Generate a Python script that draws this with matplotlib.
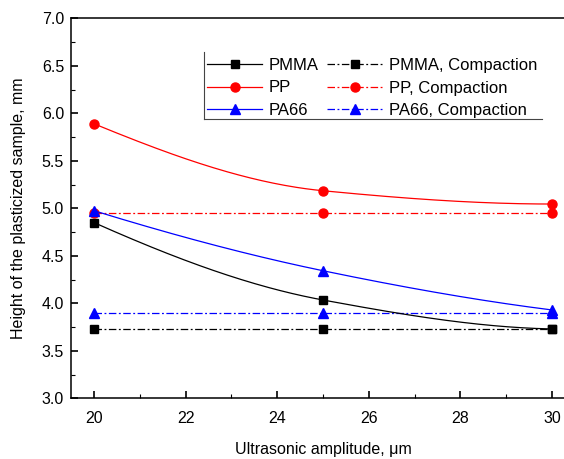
import numpy as np
import matplotlib
matplotlib.use("Agg")
import matplotlib.pyplot as plt
from matplotlib.lines import Line2D
from matplotlib.ticker import MultipleLocator, FormatStrFormatter

plt.rcParams['font.family'] = ['Liberation Sans', 'DejaVu Sans']

amplitude = [20, 25, 30]
pmma = [4.85, 4.035, 3.73]
pp = [5.89, 5.185, 5.045]
pa66 = [4.975, 4.343, 3.93]
pmma_comp = [3.73, 3.73, 3.73]
pp_comp = [4.95, 4.95, 4.95]
pa66_comp = [3.895, 3.895, 3.895]

W, H = 564, 459
fig = plt.figure(figsize=(W / 100, H / 100), dpi=100)
left_px, top_px, bottom_px = 71, 18.3, 398.3
px_per_unit = 45.8
xlim = (19.5, 30.5)
width_px = (xlim[1] - xlim[0]) * px_per_unit
ax = fig.add_axes([left_px / W, (H - bottom_px) / H, width_px / W, (bottom_px - top_px) / H])


def pchip(xs, ys, n=200):
    x = np.asarray(xs, float)
    y = np.asarray(ys, float)
    h = np.diff(x)
    d = np.diff(y) / h
    m = np.zeros_like(y)
    for k in range(1, len(x) - 1):
        if d[k - 1] * d[k] > 0:
            w1 = 2 * h[k] + h[k - 1]
            w2 = h[k] + 2 * h[k - 1]
            m[k] = (w1 + w2) / (w1 / d[k - 1] + w2 / d[k])
    def end(h0, h1, d0, d1):
        s = ((2 * h0 + h1) * d0 - h0 * d1) / (h0 + h1)
        if np.sign(s) != np.sign(d0):
            s = 0.0
        elif np.sign(d0) != np.sign(d1) and abs(s) > abs(3 * d0):
            s = 3 * d0
        return s
    m[0] = end(h[0], h[1], d[0], d[1])
    m[-1] = end(h[-1], h[-2], d[-1], d[-2])
    xx = np.linspace(x[0], x[-1], n)
    yy = np.empty_like(xx)
    for i, xv in enumerate(xx):
        k = min(np.searchsorted(x, xv, side='right') - 1, len(x) - 2)
        t = (xv - x[k]) / h[k]
        h00 = 2 * t**3 - 3 * t**2 + 1
        h10 = t**3 - 2 * t**2 + t
        h01 = -2 * t**3 + 3 * t**2
        h11 = t**3 - t**2
        yy[i] = h00 * y[k] + h10 * h[k] * m[k] + h01 * y[k + 1] + h11 * h[k] * m[k + 1]
    return xx, yy


dashdot = (0, (6, 2, 1.5, 2))
series = [
    (pmma, 'black', 's', 5.8, 'PMMA'),
    (pp, 'red', 'o', 6.5, 'PP'),
    (pa66, 'blue', '^', 7, 'PA66'),
]
comps = [
    (pmma_comp, 'black', 's', 5.8, 'PMMA, Compaction'),
    (pp_comp, 'red', 'o', 6.5, 'PP, Compaction'),
    (pa66_comp, 'blue', '^', 7, 'PA66, Compaction'),
]
for ys, c, m, ms, lab in comps:
    ax.plot(amplitude, ys, color=c, lw=0.9, ls=dashdot, marker=m, ms=ms, zorder=2)
for ys, c, m, ms, lab in series:
    xx, yy = pchip(amplitude, ys)
    ax.plot(xx, yy, color=c, lw=0.9, zorder=3)
    ax.plot(amplitude, ys, ls='none', marker=m, ms=ms, color=c, zorder=4)

handles = []
for ys, c, m, ms, lab in series:
    handles.append(Line2D([], [], color=c, lw=0.9, marker=m, ms=ms, label=lab))
for ys, c, m, ms, lab in comps:
    handles.append(Line2D([], [], color=c, lw=0.9, ls=dashdot, marker=m, ms=ms, label=lab))

ax.set_xlim(*xlim)
ax.set_ylim(3.0, 7.0)
ax.xaxis.set_major_locator(MultipleLocator(2))
ax.xaxis.set_minor_locator(MultipleLocator(1))
ax.yaxis.set_major_locator(MultipleLocator(0.5))
ax.yaxis.set_minor_locator(MultipleLocator(0.25))
ax.yaxis.set_major_formatter(FormatStrFormatter('%.1f'))
ax.tick_params(which='both', direction='in', top=False, right=False, labelsize=11.5, colors='black')
ax.tick_params(which='major', length=5, width=1.2)
ax.tick_params(which='minor', length=3, width=0.8)
ax.tick_params(axis='x', pad=9)
ax.tick_params(axis='y', pad=5)
ax.spines['right'].set_visible(False)
for s in ax.spines.values():
    s.set_linewidth(1.1)

ax.set_xlabel('Ultrasonic amplitude, μm', fontsize=11.5, labelpad=12)
ax.set_ylabel('Height of the plasticized sample, mm', fontsize=11.5, labelpad=11)

leg = fig.legend(handles=handles, ncol=2, loc='upper left',
                 bbox_to_anchor=(207 / W, 1 - 58 / H), frameon=False,
                 fontsize=12, handlelength=3.3, handletextpad=0.4,
                 columnspacing=0.5, labelspacing=0.45, borderpad=0, borderaxespad=0)

fig.add_artist(Line2D([204 / W, 204 / W], [1 - 52 / H, 1 - 119 / H], color='#444444', lw=0.8))
fig.add_artist(Line2D([204 / W, 542 / W], [1 - 119 / H, 1 - 119 / H], color='#444444', lw=0.8))

fig.savefig('out.png', dpi=100)
